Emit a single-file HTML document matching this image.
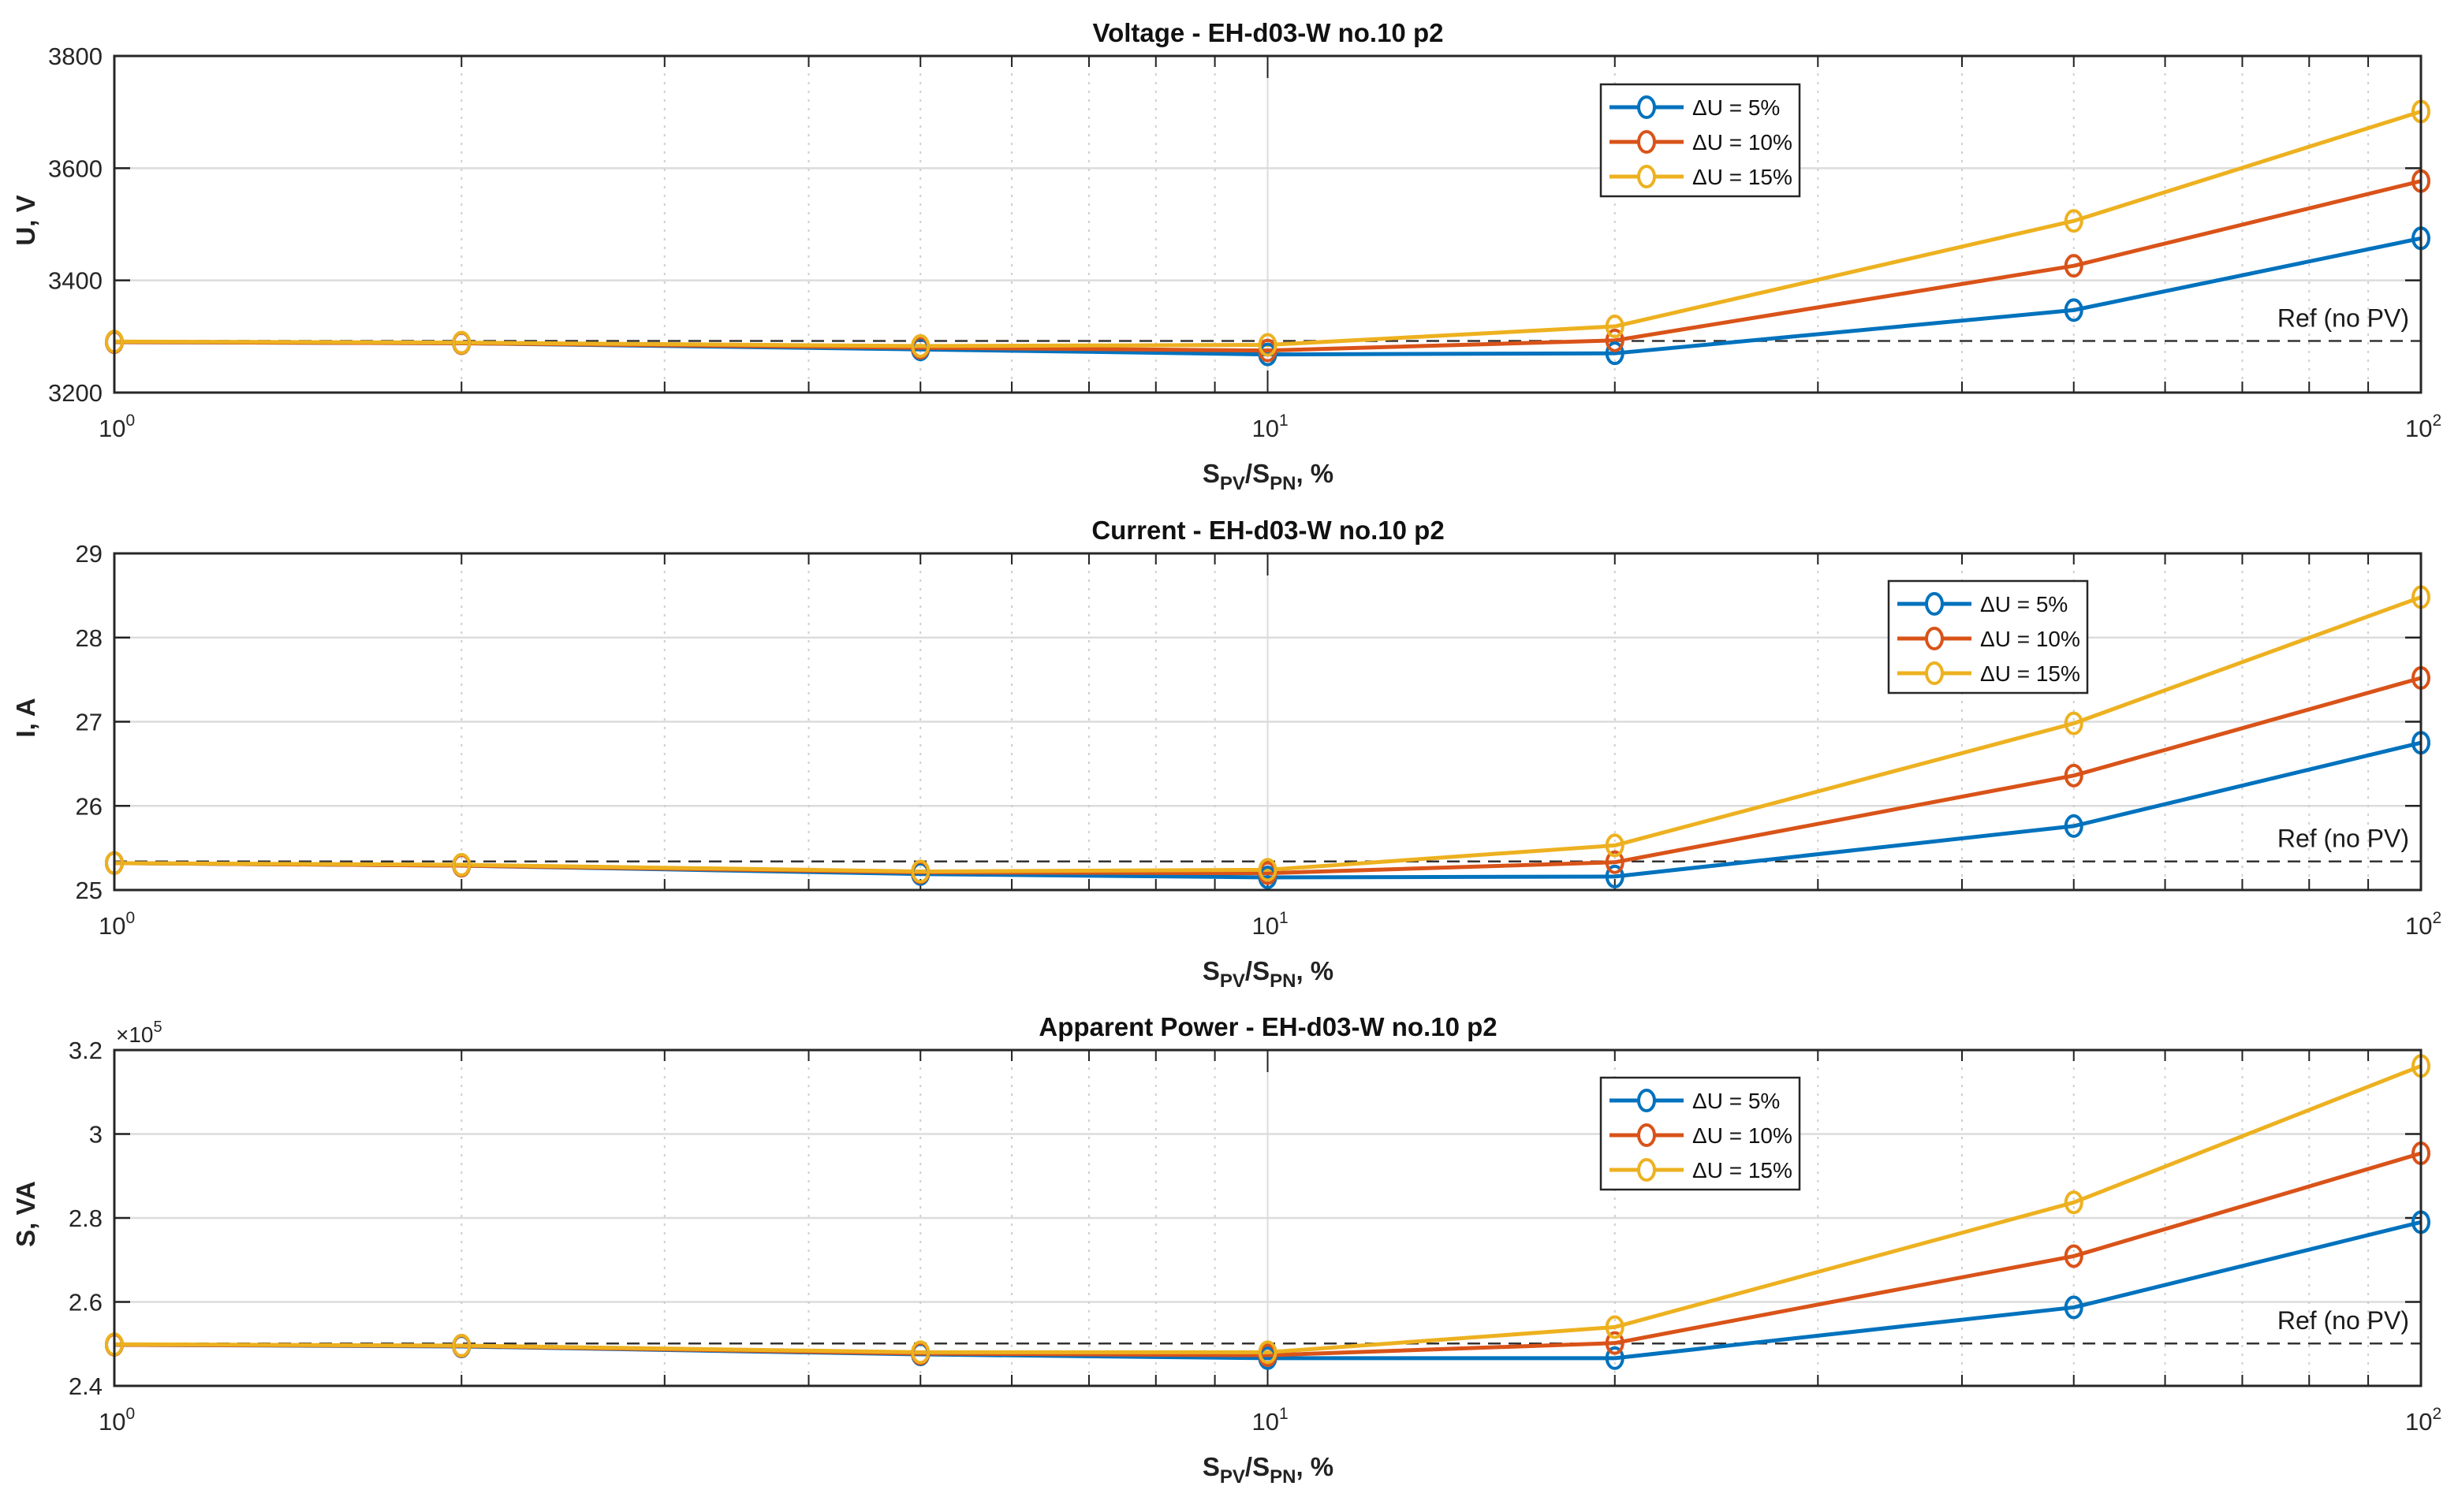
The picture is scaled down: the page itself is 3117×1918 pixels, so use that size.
<!DOCTYPE html>
<html><head><meta charset="utf-8">
<style>
html,body{margin:0;padding:0;background:#fff;}
svg{display:block;font-family:"Liberation Sans",Arial,sans-serif;}
</style></head>
<body>
<svg id="fig" width="3117" height="1918" viewBox="0 0 3117 1918" xmlns="http://www.w3.org/2000/svg"></svg>
<script>
// ---- data ----
const xValues = [1, 2, 5, 10, 20, 50, 100];
const seriesNames = ["ΔU = 5%", "ΔU = 10%", "ΔU = 15%"];
const voltage5 = [3290, 3288, 3277, 3268, 3270, 3347, 3475];
const voltage10 = [3290, 3288, 3280, 3275, 3293, 3426, 3577];
const voltage15 = [3291, 3289, 3283, 3285, 3318, 3506, 3701];
const voltageRef = 3292;
const voltageTicks = [3200, 3400, 3600, 3800];
const current5 = [25.32, 25.29, 25.19, 25.15, 25.16, 25.76, 26.75];
const current10 = [25.32, 25.29, 25.21, 25.2, 25.33, 26.36, 27.52];
const current15 = [25.32, 25.3, 25.22, 25.24, 25.53, 26.98, 28.48];
const currentRef = 25.34;
const currentTicks = [25, 26, 27, 28, 29];
const power5 = [2.498, 2.494, 2.475, 2.466, 2.466, 2.587, 2.790];
const power10 = [2.498, 2.495, 2.477, 2.473, 2.502, 2.709, 2.954];
const power15 = [2.499, 2.496, 2.48, 2.48, 2.540, 2.837, 3.162];
const powerRef = 2.501;
const powerTicks = [2.4, 2.6, 2.8, 3, 3.2];
const powerTickLabels = ["2.4", "2.6", "2.8", "3", "3.2"];

const colors = ["#0072BD", "#D95319", "#EDB120"];
const NS = "http://www.w3.org/2000/svg";
const svg = document.getElementById("fig");
const X0 = 145, X1 = 3070;
function xScale(v){ return X0 + (X1 - X0) * Math.log10(v) / 2; }
function mk(tag, attrs, parent){
  const e = document.createElementNS(NS, tag);
  for (const k in attrs) e.setAttribute(k, attrs[k]);
  (parent || svg).appendChild(e);
  return e;
}

function panel(cfg){
  const g = mk("g", {});
  
  
  const yS = v => cfg.bottom - (v - cfg.min) / (cfg.max - cfg.min) * (cfg.bottom - cfg.top);
  // horizontal grid
  cfg.ticks.forEach(t => {
    if (t !== cfg.min && t !== cfg.max) {
      const l = mk("line", {x1:X0, x2:X1, y1:yS(t), y2:yS(t), stroke:"#dcdcdc", "stroke-width":2.5}, g);
      
      
    }
  });
  // vertical grid
  for (let d = 0; d < 2; d++) {
    for (let m = 2; m <= 9; m++) {
      const x = xScale(m * Math.pow(10, d));
      const l = mk("line", {x1:x, x2:x, y1:cfg.top, y2:cfg.bottom, stroke:"#cfcfcf", "stroke-width":2, "stroke-dasharray":"3 8"}, g);
      
      
      mk("line", {x1:x, x2:x, y1:cfg.top, y2:cfg.top + 14, stroke:"#222", "stroke-width":2}, g);
      mk("line", {x1:x, x2:x, y1:cfg.bottom, y2:cfg.bottom - 14, stroke:"#222", "stroke-width":2}, g);
    }
  }
  const mx = xScale(10);
  const ml = mk("line", {x1:mx, x2:mx, y1:cfg.top, y2:cfg.bottom, stroke:"#dcdcdc", "stroke-width":2}, g);
  
  
  mk("line", {x1:mx, x2:mx, y1:cfg.top, y2:cfg.top + 28, stroke:"#222", "stroke-width":2}, g);
  mk("line", {x1:mx, x2:mx, y1:cfg.bottom, y2:cfg.bottom - 28, stroke:"#222", "stroke-width":2}, g);
  // y ticks
  cfg.ticks.forEach((t, i) => {
    const y = yS(t);
    mk("line", {x1:X0, x2:X0 + 20, y1:y, y2:y, stroke:"#222", "stroke-width":2.5}, g);
    mk("line", {x1:X1, x2:X1 - 20, y1:y, y2:y, stroke:"#222", "stroke-width":2.5}, g);
    const tx = mk("text", {x:130, y:y + 11, "text-anchor":"end", "font-size":31, fill:"#262626"}, g);
    tx.textContent = cfg.tickLabels ? cfg.tickLabels[i] : String(t);
    
    
  });
  // x tick labels
  [0, 1, 2].forEach(p => {
    const x = xScale(Math.pow(10, p));
    const tx = mk("text", {x:x - 20, y:cfg.bottom + 56, "font-size":31, fill:"#262626"}, g);
    tx.textContent = "10";
    const sp = mk("tspan", {dy:-14, "font-size":21}, tx);
    sp.textContent = String(p);
    
    
  });
  // ref line
  const ry = yS(cfg.ref);
  const rl = mk("line", {x1:X0, x2:X1, y1:ry, y2:ry, stroke:"#333", "stroke-width":2.5, "stroke-dasharray":"16 10"}, g);
  
  
  const rt = mk("text", {x:3055, y:ry - 18, "text-anchor":"end", "font-size":32, fill:"#1a1a1a"}, g);
  rt.textContent = "Ref (no PV)";
  
  
  // series
  cfg.series.forEach((vals, si) => {
    const pts = vals.map((v, i) => xScale(xValues[i]) + "," + yS(v)).join(" ");
    const pl = mk("polyline", {points:pts, fill:"none", stroke:colors[si], "stroke-width":5, "stroke-linejoin":"round"}, g);
    
    
  });
  cfg.series.forEach((vals, si) => {
    vals.forEach((v, i) => {
      const c = mk("ellipse", {cx:xScale(xValues[i]), cy:yS(v), rx:10, ry:13, fill:"none", stroke:colors[si], "stroke-width":4}, g);
      
      
    });
  });
  // axes box
  const bx = mk("rect", {x:X0, y:cfg.top, width:X1 - X0, height:cfg.bottom - cfg.top, fill:"none", stroke:"#262626", "stroke-width":3}, g);
  
  
  // title
  const tt = mk("text", {x:1608, y:cfg.top - 18, "text-anchor":"middle", "font-size":33, "font-weight":"bold", fill:"#111"}, g);
  tt.textContent = cfg.title;
  
  
  // y label
  const cy = (cfg.top + cfg.bottom) / 2 - 5;
  const yl = mk("text", {x:0, y:0, transform:"translate(44," + cy + ") rotate(-90)", "text-anchor":"middle", "font-size":33, "font-weight":"bold", fill:"#222"}, g);
  yl.textContent = cfg.ylabel;
  
  
  // x label
  const xl = mk("text", {x:1608, y:cfg.bottom + 114, "text-anchor":"middle", "font-size":33, "font-weight":"bold", fill:"#222"}, g);
  xl.innerHTML = 'S<tspan dy="9" font-size="24">PV</tspan><tspan dy="-9">/S</tspan><tspan dy="9" font-size="24">PN</tspan><tspan dy="-9">, %</tspan>';
  
  
  // legend
  const L = cfg.legend;
  const lg = mk("g", {}, g);
  
  
  mk("rect", {x:L.x, y:L.y, width:252, height:142, fill:"#fff", stroke:"#262626", "stroke-width":2.5}, lg);
  seriesNames.forEach((n, i) => {
    const y = L.y + 29 + i * 44;
    const e = mk("g", {}, lg);
    
    
    mk("line", {x1:L.x + 11, x2:L.x + 105, y1:y, y2:y, stroke:colors[i], "stroke-width":5}, e);
    mk("ellipse", {cx:L.x + 58, cy:y, rx:10, ry:13, fill:"#fff", stroke:colors[i], "stroke-width":4}, e);
    const t = mk("text", {x:L.x + 116, y:y + 10, "font-size":28, fill:"#111"}, e);
    t.textContent = n;
  });
  return yS;
}

panel({name:"voltage", top:71, bottom:498, min:3200, max:3800, ticks:voltageTicks, ref:voltageRef,
  series:[voltage5, voltage10, voltage15], title:"Voltage - EH-d03-W no.10 p2", ylabel:"U, V",
  legend:{x:2030, y:107}});
panel({name:"current", top:702, bottom:1129, min:25, max:29, ticks:currentTicks, ref:currentRef,
  series:[current5, current10, current15], title:"Current - EH-d03-W no.10 p2", ylabel:"I, A",
  legend:{x:2395, y:737}});
panel({name:"power", top:1332, bottom:1758, min:2.4, max:3.2, ticks:powerTicks, tickLabels:powerTickLabels, ref:powerRef,
  series:[power5, power10, power15], title:"Apparent Power - EH-d03-W no.10 p2", ylabel:"S, VA",
  legend:{x:2030, y:1367}});
const ex = mk("text", {x:147, y:1322, "font-size":28, fill:"#262626"});
ex.innerHTML = '×10<tspan dy="-13" font-size="20">5</tspan>';


</script>
</body></html>
